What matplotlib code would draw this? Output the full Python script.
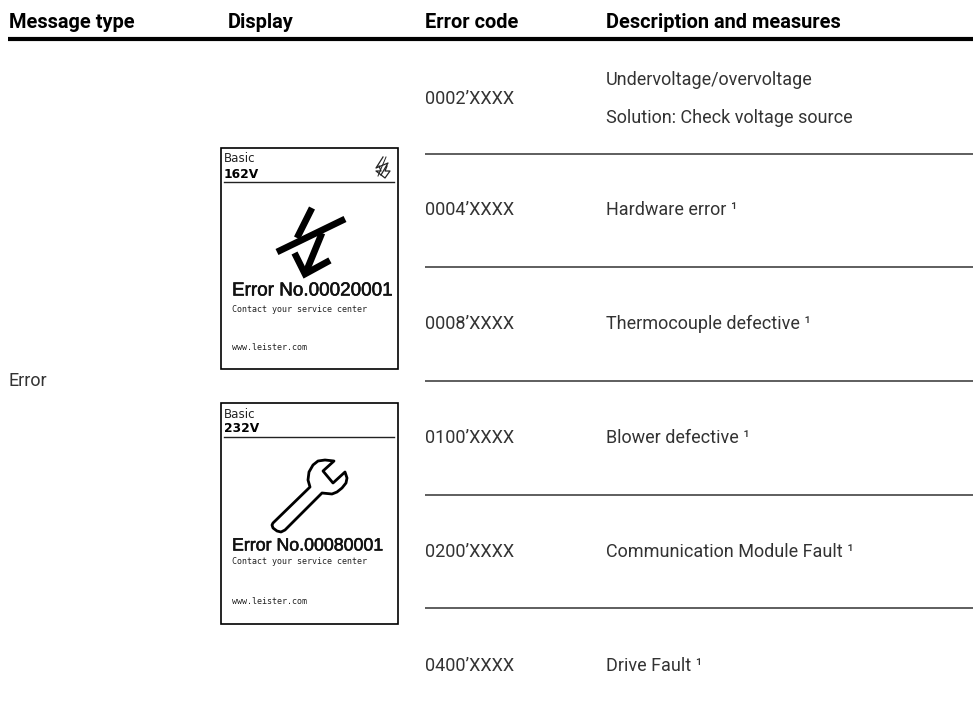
import matplotlib
matplotlib.use('Agg')
import matplotlib.pyplot as plt
import matplotlib.patheffects as pe
from matplotlib.patches import Polygon, Rectangle

# table content
headers = ['Message type', 'Display', 'Error code', 'Description and measures']
error_codes = ['0002\u2019XXXX', '0004\u2019XXXX', '0008\u2019XXXX', '0100\u2019XXXX', '0200\u2019XXXX', '0400\u2019XXXX']
descriptions = ['Undervoltage/overvoltage\nSolution: Check voltage source',
                'Hardware error \u00b9',
                'Thermocouple defective \u00b9',
                'Blower defective \u00b9',
                'Communication Module Fault \u00b9',
                'Drive Fault \u00b9']
message_type = 'Error'
screens = [('162V', 'Error No.00020001'), ('232V', 'Error No.00080001')]

body_font = ['Roboto', 'DejaVu Sans']
ink = '#333333'

fig = plt.figure(figsize=(9.73, 7.19), dpi=100)
ax = fig.add_axes([0, 0, 1, 1])
ax.set_xlim(0, 973)
ax.set_ylim(719, 0)
ax.axis('off')

# header
col_x = [9, 228, 425, 606]
for x, h in zip(col_x, headers):
    ax.text(x, 22, h, family=body_font, weight='bold', fontsize=14.4, va='center', color='black')
ax.plot([8, 973], [39, 39], color='black', lw=3, solid_capstyle='butt')

# rows
row_y = [99, 210, 324, 438, 552, 666]
rule_y = [153.5, 267, 381, 494.5, 608]
for y, code, desc in zip(row_y, error_codes, descriptions):
    ax.text(425, y, code, family=body_font, fontsize=13, va='center', color=ink)
    ax.text(606, y, desc, family=body_font, fontsize=13, va='center', color=ink, linespacing=2.4)
for y in rule_y:
    ax.plot([425, 973], [y, y], color='#333333', lw=1.1, solid_capstyle='butt')
ax.text(9, 381, message_type, family=body_font, fontsize=13, va='center', color=ink)


def draw_screen(top, volt, err, err_size, err_dy, contact_dy, web_dy):
    ax.add_patch(Rectangle((221, top), 177, 221, fc='white', ec='black', lw=1.2))
    ax.text(224, top + 11, 'Basic', family='DejaVu Sans', fontsize=8.6, va='center', color='#222222')
    ax.text(224, top + 26, volt, family='DejaVu Sans', weight='bold', fontsize=8.8, va='center', color='black')
    ax.plot([224, 394], [top + 34, top + 34], color='#222222', lw=1)
    ax.text(232, top + err_dy, err, family='Liberation Sans', fontsize=err_size, va='center', color='#111111',
            path_effects=[pe.withStroke(linewidth=0.4, foreground='#111111')])
    ax.text(232, top + contact_dy, 'Contact your service center', family='DejaVu Sans Mono', fontsize=6,
            va='center', color='#222222')
    ax.text(232, top + web_dy, 'www.leister.com', family='DejaVu Sans Mono', fontsize=6, va='center', color='#222222')


draw_screen(148, screens[0][0], screens[0][1], 13.6, 143, 161, 200)
draw_screen(403, screens[1][0], screens[1][1], 12.8, 143, 159, 198)

# broken-heater icon
ax.plot([312, 297], [208, 238], color='black', lw=4.8, solid_capstyle='butt')
ax.plot([277, 345], [252, 219], color='black', lw=4.8, solid_capstyle='butt')
ax.plot([322, 306], [233, 272], color='black', lw=4.8, solid_capstyle='butt')
ax.plot([296, 305, 327], [256, 274, 262], color='black', lw=4.8, solid_joinstyle='miter')

# small lightning icon, top right
ax.plot([383, 376, 388, 381], [157, 168, 163, 175], color='#222222', lw=0.9)
ax.plot([379, 381, 376, 385, 390, 385, 387], [166, 171, 171, 178, 171, 171, 166], color='#222222', lw=0.9)
ax.plot([378, 386], [176, 157], color='#222222', lw=0.7)

# wrench icon
wrench_x = [273, 310, 308, 309, 313, 318, 325, 334, 323, 333, 345, 347, 346, 342, 337, 332, 322, 285, 281, 277, 273, 272]
wrench_y = [523, 487, 480, 472, 465, 461, 460, 461, 471, 483, 472, 478, 483, 488, 492, 494, 493, 530, 532, 531, 528, 525]
ax.add_patch(Polygon(list(zip(wrench_x, wrench_y)), closed=True, fc='white', ec='black', lw=2, joinstyle='round'))

fig.savefig('out.png', dpi=100)
